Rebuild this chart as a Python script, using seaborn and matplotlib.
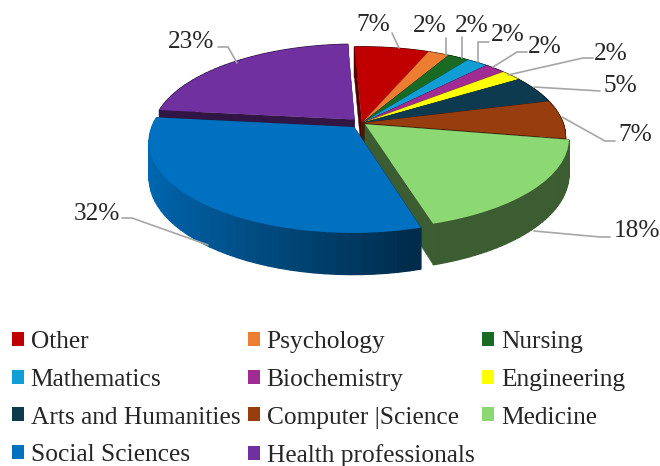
import numpy as np
import matplotlib
matplotlib.use("Agg")
import matplotlib.pyplot as plt
from matplotlib.transforms import Transform
import seaborn as sns

categories = ["Other", "Psychology", "Nursing", "Mathematics", "Biochemistry", "Engineering",
              "Arts and Humanities", "Computer |Science", "Medicine", "Social Sciences",
              "Health professionals"]
values = [7, 2, 2, 2, 2, 2, 5, 7, 18, 32, 23]
explode = [0, 0, 0, 0, 0, 0, 0, 0, 0.02, 0.06, 0.055]
colors = ["#c00000", "#ed7d31", "#196b24", "#0f9ed5", "#a02b93", "#ffff00",
          "#0e3a4f", "#973d0e", "#8cd873", "#0070c0", "#7030a0"]

# label anchor (text centre), then leader line points, all in image pixels
label_pos = [(373, 25), (430, 26), (472, 26), (508, 35), (545, 47), (611, 54),
             (620, 86), (635, 135), (637, 231), (97, 214), (191, 42)]
leaders = [
    [(392, 33), (399, 48)],
    [(446, 38), (446, 55)],
    [(462, 37), (462, 58)],
    [(489, 42), (478, 42), (478, 62)],
    [(527, 52), (517, 52), (493, 67)],
    [(593, 58), (583, 58), (508, 75)],
    [(600, 91), (534, 87)],
    [(615, 141), (605, 141), (562, 117)],
    [(610, 237), (600, 237), (534, 231)],
    [(122, 218), (132, 218), (208, 245)],
    [(218, 47), (228, 47), (237, 63)],
]

# projection of the unit disc to the image
CX, CY = 362, 123
RX, RY = 201, 88
K = 0.155
DEPTH = 35


def project(u, v, depth=0.0):
    d = 1 + K * v
    return CX + RX * u / d, CY + (depth - RY * v) / d


class DiscProjection(Transform):
    input_dims = 2
    output_dims = 2
    is_separable = False
    has_inverse = False

    def transform_non_affine(self, values):
        values = np.asarray(values)
        x, y = project(values[:, 0], values[:, 1])
        return np.column_stack([x, y])


sns.set_theme(style="white")
plt.rcParams["font.family"] = ["Liberation Serif", "DejaVu Serif"]

fig = plt.figure(figsize=(6.6, 4.66), dpi=100)
ax = fig.add_axes([0, 0, 1, 1])

wedges, _ = ax.pie(values, colors=colors, explode=explode, startangle=92.5, counterclock=False,
                   radius=1, wedgeprops={"linewidth": 0})
ax.set_aspect("auto")
ax.set_xlim(0, 660)
ax.set_ylim(466, 0)
ax.axis("off")


def draw_walls(wedge, color, z):
    cu, cv = wedge.center
    t = np.radians(np.linspace(wedge.theta1, wedge.theta2, 40))
    rim_u = cu + np.cos(t)
    rim_v = cv + np.sin(t)
    base = np.array(matplotlib.colors.to_rgb(color))
    shades = sns.blend_palette([base * 0.43, base * 0.43], 40)
    if color == "#0070c0":
        shades = sns.blend_palette([base * 0.92, base * 0.36], 40)
    # shade follows the horizontal position on the rim
    pos = (rim_u - rim_u.min()) / (rim_u.max() - rim_u.min() + 1e-9)
    # two flat sides
    for u, v in [(rim_u[0], rim_v[0]), (rim_u[-1], rim_v[-1])]:
        xa, ya = project(cu, cv)
        xb, yb = project(u, v)
        xc, yc = project(u, v, DEPTH)
        xd, yd = project(cu, cv, DEPTH)
        ax.fill([xa, xb, xc, xd], [ya, yb, yc, yd], color=base * 0.43, lw=0.3, zorder=z)
    # outer rim
    for i in range(len(t) - 1):
        xa, ya = project(rim_u[i], rim_v[i])
        xb, yb = project(rim_u[i + 1], rim_v[i + 1])
        xc, yc = project(rim_u[i + 1], rim_v[i + 1], DEPTH)
        xd, yd = project(rim_u[i], rim_v[i], DEPTH)
        ax.fill([xa, xb, xc, xd], [ya, yb, yc, yd], color=shades[int(pos[i] * 39)], lw=0.9, zorder=z)


# back to front: Health professionals first, Social Sciences last
order = [10, 0, 1, 2, 3, 4, 5, 6, 7, 8, 9]
proj = DiscProjection()
for rank, i in enumerate(order):
    draw_walls(wedges[i], colors[i], 2 * rank + 1)
    wedges[i].set_transform(proj + ax.transData)
    wedges[i].set_zorder(2 * rank + 2)

# data labels and leader lines
for v, pos, line in zip(values, label_pos, leaders):
    ax.text(pos[0], pos[1], f"{v}%", fontsize=18.3, color="#262626", ha="center", va="center", zorder=40)
    xs, ys = zip(*line)
    ax.plot(xs, ys, color="#a6a6a6", lw=1.2, zorder=30)

# legend, filled by column so it reads across in rows
col_order = [0, 3, 6, 9, 1, 4, 7, 10, 2, 5, 8]
leg = ax.legend([wedges[i] for i in col_order], [categories[i] for i in col_order],
                ncols=3, loc="upper left", bbox_to_anchor=(12 / 660, 1 - 331 / 466),
                frameon=False, fontsize=18.3, borderpad=0, borderaxespad=0,
                handlelength=0.47, handleheight=0.47, handletextpad=0.26,
                columnspacing=0.31, labelspacing=0.62, labelcolor="#262626")

fig.savefig("out.png", dpi=100)
plt.close(fig)
